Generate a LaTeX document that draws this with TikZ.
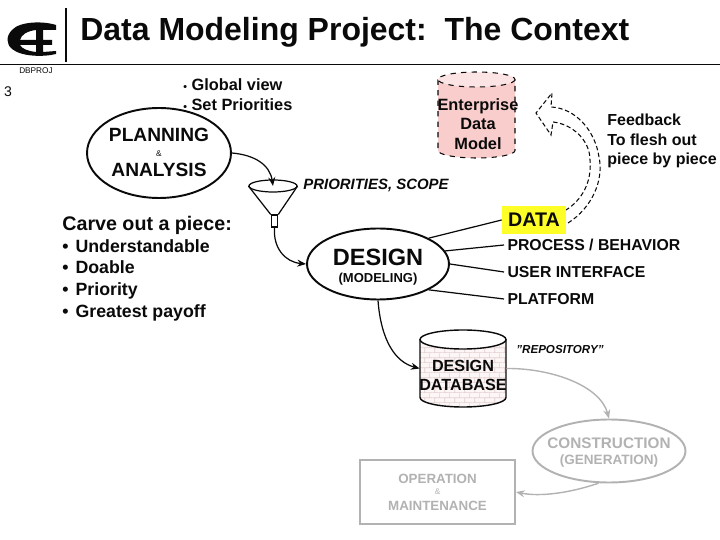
\documentclass[tikz,border=0pt]{standalone}
\usepackage{fontspec}
\setmainfont{Liberation Sans}
\usetikzlibrary{
    arrows.meta,
    patterns,
    shapes.geometric
}
\definecolor{ink}{RGB}{10,10,10}
\definecolor{faded}{RGB}{178,178,178}
\definecolor{modelpink}{RGB}{250,205,205}
\definecolor{modeltop}{RGB}{252,228,228}
\definecolor{brickpink}{RGB}{252,246,246}
\definecolor{brickline}{RGB}{226,206,206}
\definecolor{marker}{RGB}{255,255,40}
\newcommand{\smalldot}{{\fontsize{6}{6}\selectfont\textbullet}}
\pgfdeclarepatternformonly{tinybricks}{\pgfpointorigin}{\pgfqpoint{5.6pt}{5.6pt}}{\pgfqpoint{5.6pt}{5.6pt}}{
    \pgfsetlinewidth{0.4pt}
    \pgfpathmoveto{\pgfqpoint{0pt}{0.2pt}}\pgfpathlineto{\pgfqpoint{5.6pt}{0.2pt}}
    \pgfpathmoveto{\pgfqpoint{0pt}{3pt}}\pgfpathlineto{\pgfqpoint{5.6pt}{3pt}}
    \pgfpathmoveto{\pgfqpoint{1pt}{0.2pt}}\pgfpathlineto{\pgfqpoint{1pt}{3pt}}
    \pgfpathmoveto{\pgfqpoint{3.8pt}{3pt}}\pgfpathlineto{\pgfqpoint{3.8pt}{5.6pt}}
    \pgfusepath{stroke}
}
\tikzset{
    line cap=round,
    line join=round,
    every node/.style={text=ink, align=center, inner sep=0pt, font=\bfseries},
    stage/.style={
        ellipse,
        draw=ink,
        line width=1.1pt,
        fill=white
    },
    fadedstage/.style={
        stage,
        draw=faded
    },
    fadedbox/.style={
        rectangle,
        draw=faded,
        line width=1.1pt,
        fill=white
    },
    fadedtext/.style={text=faded},
    storeanchor/.style={
        rectangle,
        minimum width=1.72cm,
        minimum height=1.54cm
    },
    flow/.style={
        -{Stealth[length=5pt,width=4pt]},
        draw=ink,
        line width=0.7pt
    },
    fadedflow/.style={
        -{Stealth[length=5pt,width=4pt]},
        draw=faded,
        line width=0.8pt
    },
    spoke/.style={
        draw=ink,
        line width=0.7pt
    },
    sidelabel/.style={
        font=\fontsize{9}{10}\selectfont\bfseries,
        anchor=west,
        outer sep=2pt
    },
    bigword/.style={font=\fontsize{10.9}{13}\selectfont\bfseries},
    tiny/.style={font=\fontsize{4.7}{5}\selectfont}
}
\begin{document}
\begin{tikzpicture}[x=0.02cm, y=-0.02cm]
\useasboundingbox (0,0) rectangle (720,540);

% Header
\fill[ink, even odd rule] (56,25) .. controls (44,21) and (20,21) .. (12,30)
    .. controls (6,36) and (6,44) .. (12,49) .. controls (22,57) and (44,57) .. (56,54)
    -- (56,51) -- (43,52) -- (43,45) -- (52,45) -- (52,40) -- (43,40) -- (43,30) -- (56,30) -- cycle
    (36,30) -- (36,40) -- (20,40) .. controls (21,35) and (27,31) .. (36,30) -- cycle
    (36,45) -- (36,52) .. controls (28,51) and (22,49) .. (20,45) -- cycle;
\draw[ink, line width=0.7pt] (66,8) -- (66,62);
\draw[ink, line width=0.7pt] (0,64.5) -- (720,64.5);
\node[font=\fontsize{18.2}{22}\selectfont\bfseries, anchor=west] (title) at (80,32) {Data Modeling Project:\ \ The Context};
\node[tiny, font=\fontsize{4.7}{5}\selectfont] (dbproj) at (36,70.5) {DBPROJ};
\node[font=\fontsize{8}{10}\selectfont] (pagenum) at (8,92) {3};
\node[font=\fontsize{9.3}{11}\selectfont\bfseries, anchor=west, align=left] (bullets) at (183,94.5) {\smalldot\ Global view\\[0.5pt]\smalldot\ Set Priorities};

% Planning
\node[stage, minimum width=2.88cm, minimum height=1.8cm] (planning) at (159,153) {};
\node[bigword] (planword) at (159,135) {PLANNING};
\node[tiny] (planamp) at (159,154) {\&};
\node[bigword] (anaword) at (159,170) {ANALYSIS};

% Enterprise model
\path[fill=modelpink] (438,79.5) -- (438,150.5) arc[start angle=180, end angle=0, x radius=38.5, y radius=7.5] -- (515,79.5) -- cycle;
\draw[ink, dashed, line width=0.6pt] (438,79.5) -- (438,150.5) arc[start angle=180, end angle=0, x radius=38.5, y radius=7.5] -- (515,79.5);
\draw[ink, dashed, line width=0.6pt, fill=modeltop] (476.5,79.5) ellipse [x radius=38.5, y radius=7.5];
\node[font=\fontsize{9.3}{11.1}\selectfont\bfseries] (modelword) at (478,124) {Enterprise\\Data\\Model};

% Feedback arrow
\draw[ink, dash pattern=on 2.5pt off 1.5pt, line width=0.6pt, fill=white] (568,223)
    .. controls (592,208) and (604,180) .. (599,157)
    .. controls (595,130) and (575,108) .. (551,107)
    -- (552,93) -- (536,113) -- (551,135) -- (553,122)
    .. controls (572,124) and (590,140) .. (590,160)
    .. controls (592,182) and (582,200) .. (566,210);
\node[font=\fontsize{9.1}{11}\selectfont\bfseries, anchor=north west, align=left] (feedback) at (607,114) {Feedback\\To flesh out\\piece by piece};

% Funnel
\node[draw=ink, ellipse, line width=0.7pt, fill=white, minimum width=0.96cm, minimum height=0.24cm] (funneltop) at (273,186) {};
\node[draw=ink, rectangle, line width=0.6pt, fill=white, minimum width=0.13cm, minimum height=0.24cm] (funnelspout) at (274.5,221) {};
\draw[ink, line width=0.7pt] (funneltop.west) -- (funnelspout.north west);
\draw[ink, line width=0.7pt] (funneltop.east) -- (funnelspout.north east);
\node[font=\fontsize{8.5}{10}\selectfont\bfseries\itshape, anchor=west] (priorities) at (303,185) {PRIORITIES, SCOPE};
\draw[flow] (planning.east) .. controls (255,155) and (270,165) .. (funneltop.center);

% Carve out list
\node[font=\fontsize{11.2}{13}\selectfont\bfseries, anchor=west] (carve) at (62,225) {Carve out a piece:};
\node[font=\fontsize{10.1}{12.3}\selectfont\bfseries, align=left, anchor=north west] (carvelist) at (62,239) {%
    \textbullet\hspace{4pt}Understandable\\
    \textbullet\hspace{4pt}Doable\\
    \textbullet\hspace{4pt}Priority\\
    \textbullet\hspace{4pt}Greatest payoff};

% Design
\node[stage, minimum width=2.84cm, minimum height=1.42cm] (design) at (378,264) {};
\node[font=\fontsize{13.4}{16}\selectfont\bfseries] (designword) at (378,257) {DESIGN};
\node[font=\fontsize{7.4}{9}\selectfont\bfseries] (modeling) at (378,279) {(MODELING)};
\draw[flow] (funnelspout.south) .. controls (273,248) and (285,262) .. (design.west);

\node[fill=marker, font=\fontsize{11.2}{12}\selectfont\bfseries, minimum width=1.28cm, minimum height=0.56cm] (dataword) at (534,220) {DATA};
\node[sidelabel] (process) at (504,245) {PROCESS / BEHAVIOR};
\node[sidelabel] (userint) at (504,272) {USER INTERFACE};
\node[sidelabel] (platform) at (504,299) {PLATFORM};
\draw[spoke] (design.27) -- (dataword.west);
\draw[spoke] (design.11) -- (process.west);
\draw[spoke] (design.east) -- (userint.west);
\draw[spoke] (design.-27) -- (platform.west);

% Design database
\node[storeanchor] (database) at (463,368.5) {};
\path[fill=brickpink] (420,339.5) -- (420,397.5) arc[start angle=180, end angle=0, x radius=43, y radius=9.5] -- (506,339.5) -- cycle;
\path[pattern=tinybricks, pattern color=brickline] (420,339.5) -- (420,397.5) arc[start angle=180, end angle=0, x radius=43, y radius=9.5] -- (506,339.5) -- cycle;
\draw[ink, line width=0.8pt] (420,339.5) -- (420,397.5) arc[start angle=180, end angle=0, x radius=43, y radius=9.5] -- (506,339.5);
\draw[ink, line width=0.8pt, fill=white] (463,339.5) ellipse [x radius=43, y radius=9.5];
\node[font=\fontsize{9.2}{10.8}\selectfont\bfseries] (dbword) at (463,375) {DESIGN\\DATABASE};
\node[font=\fontsize{6.6}{8}\selectfont\bfseries\itshape, anchor=west] (repository) at (516,350) {"REPOSITORY"};
\draw[flow] (design.south) .. controls (381,340) and (395,362) .. (database.west);

% Downstream stages
\node[fadedstage, minimum width=3.06cm, minimum height=1.26cm] (construction) at (609,451) {};
\node[fadedtext, font=\fontsize{8.7}{11}\selectfont\bfseries] (consword) at (609,443) {CONSTRUCTION};
\node[fadedtext, font=\fontsize{7.7}{9}\selectfont\bfseries] (genword) at (609,461) {(GENERATION)};
\node[fadedbox, minimum width=3.1cm, minimum height=1.28cm] (operation) at (437.5,492) {};
\node[fadedtext, font=\fontsize{7.6}{9}\selectfont\bfseries] (opword) at (437.5,479) {OPERATION};
\node[fadedtext, tiny] (opamp) at (437.5,492) {\&};
\node[fadedtext, font=\fontsize{7.6}{9}\selectfont\bfseries] (maintword) at (437.5,506) {MAINTENANCE};
\draw[fadedflow] (database.east) .. controls (550,368) and (600,385) .. (construction.north);
\draw[fadedflow] (construction.-108) .. controls (570,493) and (540,497) .. (operation.east);

\end{tikzpicture}
\end{document}
